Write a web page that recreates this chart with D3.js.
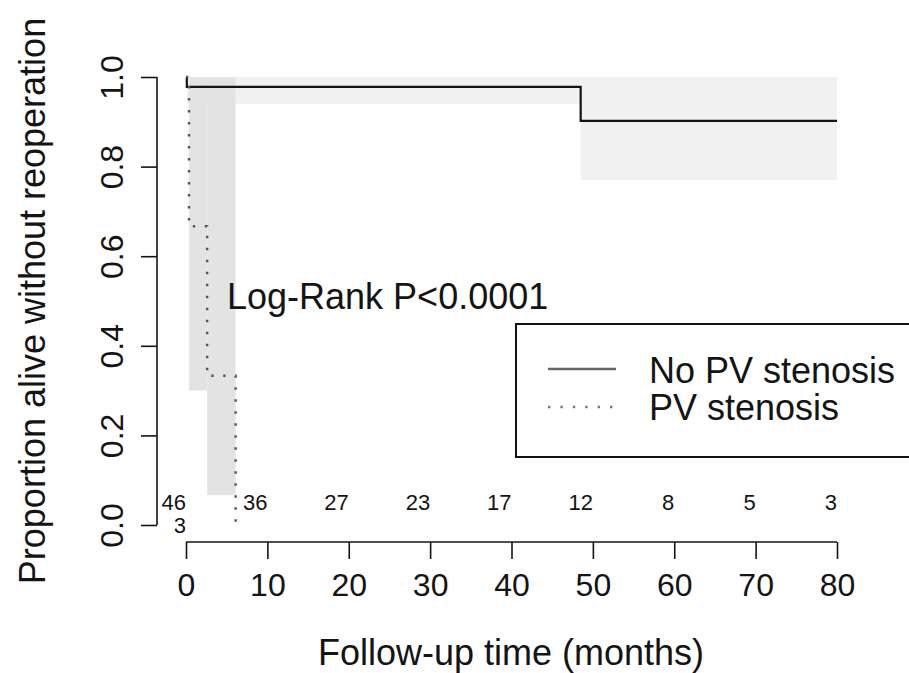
<!DOCTYPE html>
<html>
<head>
<meta charset="utf-8">
<script src="https://cdn.jsdelivr.net/npm/d3@7"></script>
<style>
  html, body { margin: 0; padding: 0; background: #fff; }
  svg { display: block; }
  text { font-family: "Liberation Sans", Arial, Helvetica, sans-serif; fill: #141414; }
</style>
</head>
<body>
<svg id="chart" width="909" height="673"></svg>
<script>
// ---- data ----
const timesNoPV = [0, 0.1, 48.5, 80];
const survNoPV  = [1, 0.978, 0.902, 0.902];
const lowerNoPV = [1, 0.94, 0.77, 0.77];
const upperNoPV = [1, 1, 1, 1];

const timesPV = [0, 0.37, 2.6, 6.1];
const survPV  = [1, 0.667, 0.333, 0];
const lowerPV = [1, 0.30, 0.067, 0];
const upperPV = [1, 1, 1, 1];

const xTicks = [0, 10, 20, 30, 40, 50, 60, 70, 80];
const yTicks = [0.0, 0.2, 0.4, 0.6, 0.8, 1.0];

const riskTimes = [0, 10, 20, 30, 40, 50, 60, 70, 80];
const riskNoPV  = [46, 36, 27, 23, 17, 12, 8, 5, 3];
const riskPV    = [3, null, null, null, null, null, null, null, null];

const seriesNames = ["No PV stenosis", "PV stenosis"];
const pText = "Log-Rank P<0.0001";
const xTitle = "Follow-up time (months)";
const yTitle = "Proportion alive without reoperation";

// ---- layout ----
const svg = d3.select("#chart");
const x = d3.scaleLinear().domain([0, 80]).range([186, 837]);
const y = d3.scaleLinear().domain([0, 1]).range([525, 77]);

// confidence bands (step)
function bandPath(times, lo, hi, tEnd) {
  const pts = [];
  for (let i = 1; i < times.length; i++) {
    const t0 = times[i];
    const t1 = (i + 1 < times.length) ? times[i + 1] : tEnd;
    if (t1 > t0) pts.push({t0, t1, lo: lo[i], hi: hi[i]});
  }
  return pts;
}
const bandsNoPV = bandPath(timesNoPV, lowerNoPV, upperNoPV, 80).filter(d => d.t1 > d.t0);
svg.append("g").selectAll("rect").data(bandsNoPV).join("rect")
  .attr("x", d => x(d.t0)).attr("width", d => x(d.t1) - x(d.t0))
  .attr("y", d => y(d.hi)).attr("height", d => y(d.lo) - y(d.hi))
  .attr("fill", "#f1f1f1");

const bandsPV = [];
for (let i = 1; i < timesPV.length - 1; i++) {
  bandsPV.push({t0: timesPV[i], t1: timesPV[i + 1], lo: lowerPV[i], hi: upperPV[i]});
}
svg.append("g").selectAll("rect").data(bandsPV).join("rect")
  .attr("x", d => x(d.t0)).attr("width", d => x(d.t1) - x(d.t0))
  .attr("y", d => y(d.hi)).attr("height", d => y(d.lo) - y(d.hi))
  .attr("fill", "#e3e3e3");

// survival step lines
const stepLine = d3.line().x(d => x(d[0])).y(d => y(d[1])).curve(d3.curveStepAfter);
svg.append("path")
  .attr("d", stepLine(timesNoPV.map((t, i) => [t, survNoPV[i]])))
  .attr("fill", "none").attr("stroke", "#141414").attr("stroke-width", 2.2);

svg.append("path")
  .attr("d", stepLine(timesPV.map((t, i) => [t, survPV[i]])))
  .attr("fill", "none").attr("stroke", "#555").attr("stroke-width", 2.4)
  .attr("stroke-dasharray", "2.4,9.6").attr("stroke-linecap", "butt");

// axes
const xAxis = svg.append("g").attr("transform", "translate(0,542)")
  .call(d3.axisBottom(x).tickValues(xTicks).tickSize(17).tickPadding(14).tickFormat(d3.format("d")));
xAxis.select(".domain").attr("stroke", "#141414").attr("stroke-width", 1.6)
  .attr("d", `M${x(0)},0H${x(80)}`);
xAxis.selectAll(".tick line").attr("stroke", "#141414").attr("stroke-width", 1.6);
xAxis.selectAll(".tick text").attr("font-size", 32).attr("fill", "#141414")
  .attr("font-family", "Liberation Sans, Arial, sans-serif");

const yAxis = svg.append("g").attr("transform", "translate(157,0)")
  .call(d3.axisLeft(y).tickValues(yTicks).tickSize(16).tickFormat(d3.format(".1f")));
yAxis.select(".domain").attr("stroke", "#141414").attr("stroke-width", 1.6)
  .attr("d", `M0,${y(0)}V${y(1)}`);
yAxis.selectAll(".tick line").attr("stroke", "#141414").attr("stroke-width", 1.6);
yAxis.selectAll(".tick text")
  .attr("font-size", 32).attr("fill", "#141414")
  .attr("font-family", "Liberation Sans, Arial, sans-serif")
  .attr("x", null).attr("dy", null)
  .attr("text-anchor", "middle")
  .attr("transform", "translate(-34,0) rotate(-90)");

// numbers at risk
svg.append("g").selectAll("text").data(riskTimes.map((t, i) => ({t, v: riskNoPV[i]})))
  .join("text")
  .attr("x", d => x(d.t)).attr("y", 510)
  .attr("text-anchor", "end").attr("font-size", 22).attr("fill", "#222")
  .text(d => d.v);
svg.append("g").selectAll("text").data(riskTimes.map((t, i) => ({t, v: riskPV[i]})).filter(d => d.v !== null))
  .join("text")
  .attr("x", d => x(d.t)).attr("y", 533)
  .attr("text-anchor", "end").attr("font-size", 22).attr("fill", "#222")
  .text(d => d.v);

// p-value text
svg.append("text").attr("x", 227).attr("y", 309).attr("font-size", 36).text(pText);

// legend
const lg = svg.append("g");
lg.append("rect").attr("x", 516).attr("y", 324).attr("width", 400).attr("height", 133)
  .attr("fill", "#fff").attr("stroke", "#141414").attr("stroke-width", 2);
lg.append("line").attr("x1", 548).attr("x2", 616).attr("y1", 369).attr("y2", 369)
  .attr("stroke", "#666").attr("stroke-width", 2.5);
lg.append("line").attr("x1", 548).attr("x2", 616).attr("y1", 407).attr("y2", 407)
  .attr("stroke", "#777").attr("stroke-width", 2.4).attr("stroke-dasharray", "2.4,10");
lg.append("text").attr("x", 649).attr("y", 383).attr("font-size", 36).text(seriesNames[0]);
lg.append("text").attr("x", 649).attr("y", 420).attr("font-size", 36).text(seriesNames[1]);

// axis titles
svg.append("text").attr("x", 511).attr("y", 665).attr("text-anchor", "middle")
  .attr("font-size", 36).text(xTitle);
svg.append("text").attr("transform", "translate(45,301) rotate(-90)")
  .attr("text-anchor", "middle").attr("font-size", 36).text(yTitle);
</script>
</body>
</html>
